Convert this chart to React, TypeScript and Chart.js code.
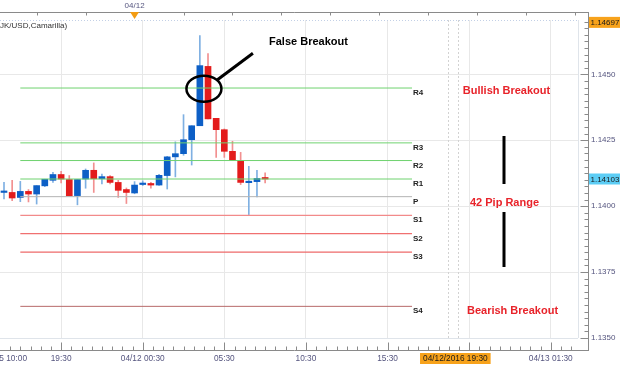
import React, { useEffect, useRef } from 'react';
import { Chart, registerables } from 'chart.js';
Chart.register(...registerables);

// ---- data ----
const OPEN = [1.14052,1.14052,1.14033,1.14056,1.14046,1.14077,1.14098,1.14120,1.14101,1.14040,1.14103,1.14136,1.14104,1.14112,1.14090,1.14063,1.14050,1.14082,1.14086,1.14080,1.14116,1.14187,1.14199,1.14252,1.14305,1.14530,1.14333,1.14290,1.14208,1.14170,1.14089,1.14093,1.14104];
const HIGH = [1.14090,1.14098,1.14094,1.14063,1.14078,1.14102,1.14128,1.14132,1.14116,1.14101,1.14141,1.14164,1.14122,1.14116,1.14098,1.14069,1.14093,1.14096,1.14090,1.14121,1.14189,1.14244,1.14347,1.14305,1.14647,1.14579,1.14333,1.14293,1.14246,1.14204,1.14151,1.14136,1.14126];
const LOW = [1.14027,1.14021,1.14017,1.14016,1.14008,1.14074,1.14090,1.14088,1.14039,1.14005,1.14068,1.14052,1.14084,1.14084,1.14033,1.14010,1.14047,1.14078,1.14068,1.14079,1.14065,1.14111,1.14193,1.14156,1.14305,1.14331,1.14185,1.14185,1.14174,1.14082,1.13968,1.14035,1.14088];
const CLOSE = [1.14053,1.14031,1.14056,1.14046,1.14078,1.14102,1.14120,1.14103,1.14039,1.14101,1.14136,1.14104,1.14112,1.14090,1.14060,1.14052,1.14080,1.14086,1.14080,1.14117,1.14187,1.14199,1.14252,1.14305,1.14533,1.14331,1.14290,1.14208,1.14174,1.14090,1.14091,1.14105,1.14103];

const LEVEL_NAMES = ['R4', 'R3', 'R2', 'R1', 'P', 'S1', 'S2', 'S3', 'S4'];
const LEVEL_VALUES = [1.14448, 1.14240, 1.14173, 1.14103, 1.14036, 1.13965, 1.13896, 1.13826, 1.13620];
const LEVEL_COLORS = ['#6fd26f', '#6fd26f', '#6fd26f', '#6fd26f', '#b4b4b4', '#f28a8a', '#f07070', '#ee6a6a', '#b86a6a'];
const LEVEL_FROM = 2;
const LEVEL_TO = 50;

const X_TICK_VALUES = [7, 17, 27, 37, 47, 57, 67];
const X_TICK_LABELS = ['19:30', '04/12 00:30', '05:30', '10:30', '15:30', '', '04/13 01:30'];
const X_FIRST_LABEL = '5 10:00';
const X_GRID = [7, 17, 27, 37, 47, 57, 67];
const X_MIN = -0.49;
const X_MAX = 70.34;
const Y_MIN = 1.135;
const Y_MAX = 1.14706;
const Y_STEP = 0.0025;

const HIGH_MARK = 1.14697;
const LAST_PRICE = 1.14103;
const CURSOR_INDEX = 55;
const CURSOR_LABEL = '04/12/2016 19:30';
const DAY_INDEX = 16;
const DAY_LABEL = '04/12';
const SERIES_LABEL = 'JK/USD,Camarilla)';
const BREAKOUT_INDEX = 24.5;

const FONT = "'Liberation Sans', Arial, sans-serif";
const AXIS_TEXT = '#55557f';
const BLUE = '#0d5fc6';
const RED = '#e31c1c';
const BLUE_WICK = '#7fb0e2';
const RED_WICK = '#f29090';

const decor = {
  id: 'decor',
  beforeDatasetsDraw(chart: any) {
    const { ctx, chartArea: a, scales } = chart;
    const x = scales.x;
    ctx.save();
    ctx.strokeStyle = '#d2d2d2';
    ctx.lineWidth = 1;
    ctx.setLineDash([2, 2]);
    for (const d of [-0.6, 0.6]) {
      const px = Math.round(x.getPixelForValue(CURSOR_INDEX + d)) + 0.5;
      ctx.beginPath(); ctx.moveTo(px, a.top); ctx.lineTo(px, a.bottom); ctx.stroke();
    }
    ctx.setLineDash([]);
    ctx.strokeStyle = '#dfe4ea';
    ctx.beginPath();
    ctx.moveTo(Math.round(a.right) + 0.5, a.top); ctx.lineTo(Math.round(a.right) + 0.5, a.bottom);
    ctx.moveTo(0, Math.round(a.bottom) + 0.5); ctx.lineTo(a.right, Math.round(a.bottom) + 0.5);
    ctx.stroke();
    ctx.strokeStyle = '#c3d0e6';
    ctx.setLineDash([1, 2]);
    ctx.beginPath(); ctx.moveTo(0, a.top + 0.5); ctx.lineTo(a.right, a.top + 0.5); ctx.stroke();
    ctx.setLineDash([]);
    ctx.restore();
  },
  afterDraw(chart: any) {
    const { ctx, chartArea: a, scales } = chart;
    const x = scales.x, y = scales.y;
    ctx.save();
    const axisX = Math.round(a.right) + 10.5;
    const axisY = Math.round(a.bottom) + 12.5;
    ctx.strokeStyle = '#8a8a8a';
    ctx.lineWidth = 1;
    ctx.beginPath();
    ctx.moveTo(0, 12.5); ctx.lineTo(axisX, 12.5);
    ctx.moveTo(axisX, 12); ctx.lineTo(axisX, axisY);
    ctx.moveTo(0, axisY); ctx.lineTo(axisX + 0.5, axisY);
    ctx.stroke();
    ctx.beginPath();
    for (let v = DAY_INDEX - 12; v <= X_MAX; v += 6) {
      if (v === DAY_INDEX) continue;
      const px = Math.round(x.getPixelForValue(v)) + 0.5;
      ctx.moveTo(px, 12.5); ctx.lineTo(px, 15.5);
    }
    ctx.stroke();
    ctx.beginPath();
    for (let k = 0; ; k++) {
      const v = Y_MIN + k * Y_STEP / 10;
      if (v > Y_MAX) break;
      const py = Math.round(y.getPixelForValue(v)) + 0.5;
      const len = k % 10 === 0 ? 8 : 4;
      ctx.moveTo(axisX - len, py); ctx.lineTo(axisX, py);
    }
    ctx.stroke();
    ctx.beginPath();
    for (let k = -8; ; k++) {
      const v = X_GRID[0] + k * 1.25;
      if (v > X_MAX) break;
      if (v < X_MIN) continue;
      const px = Math.round(x.getPixelForValue(v)) + 0.5;
      const len = k % 8 === 0 ? 8 : 4;
      ctx.moveTo(px, axisY - len); ctx.lineTo(px, axisY);
    }
    ctx.stroke();

    ctx.fillStyle = AXIS_TEXT;
    ctx.font = `8.3px ${FONT}`;
    ctx.textAlign = 'right'; ctx.textBaseline = 'middle';
    ctx.fillText(X_FIRST_LABEL, 27, 359);

    const dx = x.getPixelForValue(DAY_INDEX);
    ctx.fillStyle = '#f39c12';
    ctx.beginPath(); ctx.moveTo(dx - 4.5, 12); ctx.lineTo(dx + 4.5, 12); ctx.lineTo(dx, 19); ctx.closePath(); ctx.fill();
    ctx.fillStyle = AXIS_TEXT;
    ctx.font = `8px ${FONT}`;
    ctx.textAlign = 'center'; ctx.textBaseline = 'middle';
    ctx.fillText(DAY_LABEL, dx, 6);
    ctx.fillStyle = '#333';
    ctx.textAlign = 'left';
    ctx.fillText(SERIES_LABEL, 0, 25.5);

    const box = (val: number, color: string, text: string) => {
      const py = y.getPixelForValue(val);
      ctx.fillStyle = color;
      ctx.fillRect(axisX + 0.5, py - 5.5, 31, 11);
      ctx.fillStyle = '#1a1a1a';
      ctx.font = `8px ${FONT}`;
      ctx.textAlign = 'left'; ctx.textBaseline = 'middle';
      ctx.fillText(text, axisX + 2, py + 0.5);
    };
    box(HIGH_MARK, '#f7a21b', HIGH_MARK.toFixed(5));
    box(LAST_PRICE, '#5ccdf5', LAST_PRICE.toFixed(5));
    const cx = x.getPixelForValue(CURSOR_INDEX) + 2.5;
    ctx.font = `8.3px ${FONT}`;
    const tw = ctx.measureText(CURSOR_LABEL).width;
    ctx.fillStyle = '#f7a21b';
    ctx.fillRect(cx - tw / 2 - 3, 353, tw + 6, 11);
    ctx.fillStyle = '#1a1a1a';
    ctx.textAlign = 'center';
    ctx.fillText(CURSOR_LABEL, cx, 359);

    ctx.font = `bold 8px ${FONT}`;
    ctx.fillStyle = '#222';
    ctx.textAlign = 'left';
    LEVEL_NAMES.forEach((n, i) => {
      ctx.fillText(n, x.getPixelForValue(LEVEL_TO) + 1, y.getPixelForValue(LEVEL_VALUES[i]) + 4.8);
    });

    const ex = x.getPixelForValue(BREAKOUT_INDEX);
    const ey = y.getPixelForValue(LEVEL_VALUES[0]) + 0.7;
    ctx.strokeStyle = '#000';
    ctx.lineWidth = 2.5;
    ctx.beginPath(); ctx.ellipse(ex, ey, 17.5, 13, 0, 0, Math.PI * 2); ctx.stroke();
    ctx.lineWidth = 3;
    ctx.beginPath(); ctx.moveTo(ex + 13.5, ey - 9); ctx.lineTo(ex + 49, ey - 35.5); ctx.stroke();
    ctx.font = `bold 11px ${FONT}`;
    ctx.fillStyle = '#000';
    ctx.textAlign = 'left';
    ctx.fillText('False Breakout', 269, 42);
    ctx.fillStyle = '#e8232a';
    ctx.textAlign = 'center';
    ctx.fillText('Bullish Breakout', 506.5, 91);
    ctx.fillText('42 Pip Range', 504.5, 203);
    ctx.fillText('Bearish Breakout', 512.5, 310.5);
    ctx.strokeStyle = '#000';
    ctx.lineWidth = 3;
    ctx.beginPath();
    ctx.moveTo(504, 136); ctx.lineTo(504, 184);
    ctx.moveTo(504, 212); ctx.lineTo(504, 267);
    ctx.stroke();
    ctx.restore();
  },
};

export default function App() {
  const ref = useRef<HTMLCanvasElement>(null);
  useEffect(() => {
    const idx = OPEN.map((_, i) => i);
    const up = idx.map((i) => CLOSE[i] >= OPEN[i]);
    const datasets: any[] = [
      {
        type: 'bar',
        label: 'wick',
        data: idx.map((i) => ({ x: i, y: [LOW[i], HIGH[i]] })),
        backgroundColor: up.map((u) => (u ? BLUE_WICK : RED_WICK)),
        barThickness: 1,
        grouped: false,
        order: 3,
      },
      {
        type: 'bar',
        label: 'body',
        data: idx.map((i) => ({ x: i, y: [OPEN[i], CLOSE[i]] })),
        backgroundColor: up.map((u) => (u ? BLUE : RED)),
        barThickness: 6,
        minBarLength: 1.5,
        grouped: false,
        order: 2,
      },
      ...LEVEL_NAMES.map((n, i) => ({
        type: 'line',
        label: n,
        data: [{ x: LEVEL_FROM, y: LEVEL_VALUES[i] }, { x: LEVEL_TO, y: LEVEL_VALUES[i] }],
        borderColor: LEVEL_COLORS[i],
        borderWidth: i >= 5 && i <= 7 ? 1.3 : 1,
        pointRadius: 0,
        order: 1,
      })),
    ];
    const chart = new Chart(ref.current as HTMLCanvasElement, {
      type: 'bar',
      data: { datasets },
      options: {
        animation: false,
        responsive: false,
        devicePixelRatio: 1,
        layout: { padding: { top: 20, left: 0, right: 0, bottom: 0 } },
        plugins: { legend: { display: false }, tooltip: { enabled: false } },
        scales: {
          x: {
            type: 'linear',
            min: X_MIN,
            max: X_MAX,
            offset: false,
            grid: {
              offset: false,
              drawTicks: false,
              color: (c: any) => (c.tick && X_GRID.includes(c.tick.value) ? '#e8e8e8' : 'rgba(0,0,0,0)'),
            },
            border: { display: false },
            afterBuildTicks: (s: any) => { s.ticks = X_TICK_VALUES.map((v) => ({ value: v })); },
            afterFit: (s: any) => { s.height = 39; s.paddingLeft = 0; s.paddingRight = 0; },
            ticks: {
              autoSkip: false,
              maxRotation: 0,
              padding: 16,
              color: AXIS_TEXT,
              font: { family: FONT, size: 8.3 },
              callback: (_v: any, i: number) => X_TICK_LABELS[i],
            },
          },
          y: {
            type: 'linear',
            position: 'right',
            min: Y_MIN,
            max: Y_MAX,
            grid: { drawTicks: false, color: '#e8e8e8' },
            border: { display: false },
            afterFit: (s: any) => { s.width = 46; s.paddingTop = 0; s.paddingBottom = 0; },
            ticks: {
              stepSize: Y_STEP,
              includeBounds: false,
              padding: 13,
              color: AXIS_TEXT,
              font: { family: FONT, size: 8 },
              callback: (v: any) => Number(v).toFixed(4),
            },
          },
        },
      },
      plugins: [decor],
    } as any);
    return () => chart.destroy();
  }, []);
  return (
    <div style={{ position: 'absolute', left: 0, top: 0, width: 624, height: 377, background: '#fff' }}>
      <canvas ref={ref} width={624} height={377} />
    </div>
  );
}
